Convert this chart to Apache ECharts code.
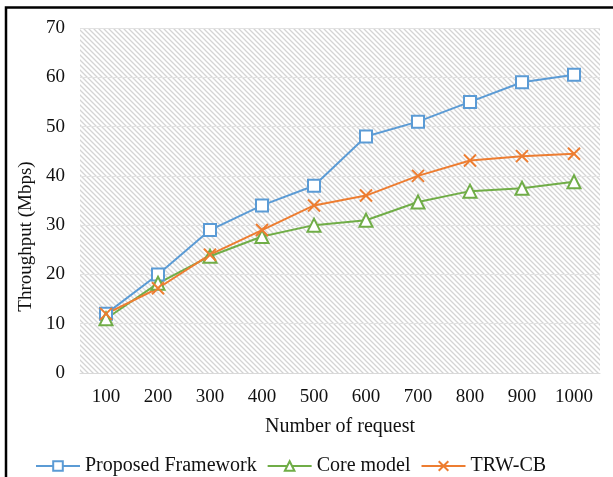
<!DOCTYPE html>
<html><head><meta charset="utf-8">
<script src="https://cdn.jsdelivr.net/npm/echarts@6/dist/echarts.min.js"></script>
<style>html,body{margin:0;padding:0;background:#fff}#c{width:613px;height:477px}</style>
</head><body><div id="c"></div>
<script>
const categories = ['100', '200', '300', '400', '500', '600', '700', '800', '900', '1000'];
const proposedFramework = [12, 20, 29, 34, 38, 48, 51, 55, 59, 60.5];
const coreModel = [11, 18.2, 23.7, 27.7, 30, 31, 34.7, 36.9, 37.5, 38.8];
const trwCb = [12, 17.2, 24, 29, 34, 36, 40, 43.1, 44, 44.5];

const FONT = 'Liberation Serif';
const pc = document.createElement('canvas');
pc.width = 5; pc.height = 5;
const g = pc.getContext('2d');
g.fillStyle = '#fff'; g.fillRect(0, 0, 5, 5);
g.strokeStyle = '#d4d4d4'; g.lineWidth = 1.3;
g.beginPath();
g.moveTo(-1, -1); g.lineTo(6, 6);
g.moveTo(-1, 4); g.lineTo(1, 6);
g.moveTo(4, -1); g.lineTo(6, 1);
g.stroke();

const crossPath = 'path://M0,0L10,10M10,0L0,10';
const chart = echarts.init(document.getElementById('c'));
chart.setOption({
  backgroundColor: '#fff',
  animation: false,
  graphic: [{
    type: 'rect', silent: true, z: 100,
    shape: {x: 6, y: 7.5, width: 700, height: 600},
    style: {fill: 'none', stroke: '#000', lineWidth: 2.5}
  }],
  grid: {
    left: 80, right: 13, top: 28, bottom: 104,
    show: true, borderWidth: 0,
    backgroundColor: {image: pc, repeat: 'repeat'}
  },
  legend: {
    left: 30, top: 451,
    itemWidth: 44, itemHeight: 12, itemGap: 10,
    textStyle: {fontFamily: FONT, fontSize: 20, color: '#111'},
    data: ['Proposed Framework', 'Core model', 'TRW-CB']
  },
  xAxis: {
    type: 'category', data: categories, boundaryGap: true,
    axisLine: {lineStyle: {color: '#d9d9d9'}},
    axisTick: {show: false},
    axisLabel: {fontFamily: FONT, fontSize: 19, color: '#111', margin: 15},
    name: 'Number of request', nameLocation: 'middle', nameGap: 44,
    nameTextStyle: {fontFamily: FONT, fontSize: 20, color: '#111'}
  },
  yAxis: {
    type: 'value', min: 0, max: 70, interval: 10,
    axisLine: {show: false}, axisTick: {show: false},
    axisLabel: {fontFamily: FONT, fontSize: 19, color: '#111', margin: 15},
    splitLine: {lineStyle: {color: '#e2e2e2'}},
    name: 'Throughput (Mbps)', nameLocation: 'middle', nameGap: 40,
    nameTextStyle: {fontFamily: FONT, fontSize: 19, color: '#111', padding: [0, 72, 0, 0]}
  },
  series: [
    {
      name: 'Proposed Framework', type: 'line', data: proposedFramework,
      symbol: 'emptyRect', symbolSize: 12,
      lineStyle: {color: '#5B9BD5', width: 2},
      itemStyle: {color: '#5B9BD5', borderColor: '#5B9BD5', borderWidth: 2}
    },
    {
      name: 'Core model', type: 'line', data: coreModel,
      symbol: 'emptyTriangle', symbolSize: 13,
      lineStyle: {color: '#70AD47', width: 2},
      itemStyle: {color: '#70AD47', borderColor: '#70AD47', borderWidth: 2}
    },
    {
      name: 'TRW-CB', type: 'line', data: trwCb,
      symbol: crossPath, symbolSize: 12,
      lineStyle: {color: '#ED7D31', width: 2},
      itemStyle: {color: '#ED7D31', borderColor: '#ED7D31', borderWidth: 2}
    }
  ]
});
</script>
</body></html>
